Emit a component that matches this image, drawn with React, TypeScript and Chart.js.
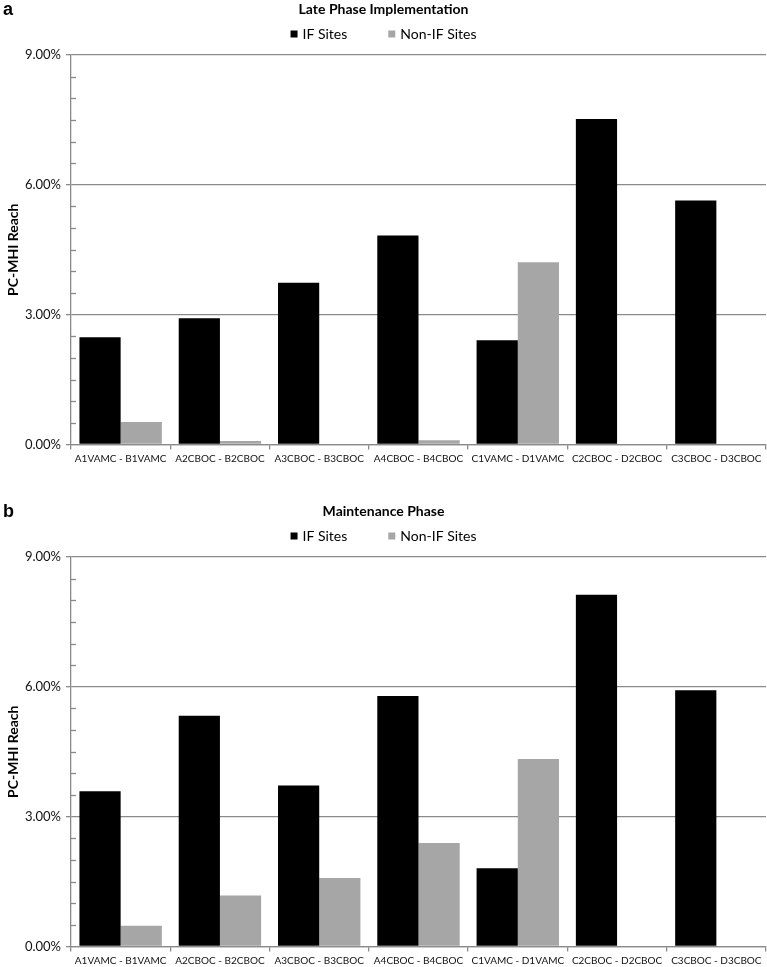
import React, { useEffect, useRef } from "react";
import { Chart, registerables } from "chart.js";

Chart.register(...registerables);

const categories = [
  "A1VAMC - B1VAMC",
  "A2CBOC - B2CBOC",
  "A3CBOC - B3CBOC",
  "A4CBOC - B4CBOC",
  "C1VAMC - D1VAMC",
  "C2CBOC - D2CBOC",
  "C3CBOC - D3CBOC",
];
const seriesNames = ["IF Sites", "Non-IF Sites"];
const seriesColors = ["#000000", "#a6a6a6"];

const lateIF = [2.48, 2.92, 3.74, 4.83, 2.41, 7.52, 5.64];
const lateNonIF = [0.52, 0.08, 0, 0.1, 4.21, 0, 0];
const maintIF = [3.59, 5.33, 3.72, 5.79, 1.81, 8.13, 5.92];
const maintNonIF = [0.48, 1.18, 1.58, 2.39, 4.33, 0, 0];

const yMin = 0;
const yMax = 9;
const yMajorStep = 3;
const yMinorStep = 0.5;
const yAxisTitle = "PC-MHI Reach";

const panelTitles = ["Late Phase Implementation", "Maintenance Phase"];
const panelLetters = ["a", "b"];

const FONT = "Lato";
const GRID = "#8a8a8a";

const headerPlugin = {
  id: "header",
  afterDraw(chart: any, _args: any, opts: any) {
    const ctx = chart.ctx;
    ctx.save();
    // panel letter
    ctx.fillStyle = "#000";
    ctx.font = "bold 18px 'Liberation Sans', Arial, sans-serif";
    ctx.textAlign = "left";
    ctx.textBaseline = "alphabetic";
    ctx.fillText(opts.letter, 3, 15);
    // title
    ctx.font = `bold 14px ${FONT}`;
    ctx.textAlign = "center";
    ctx.textBaseline = "middle";
    ctx.fillText(opts.title, 383.5, 9);
    // legend
    ctx.font = `14px ${FONT}`;
    const box = 7;
    const gapText = 5;
    const gapItem = 41;
    const ds = chart.data.datasets;
    const widths = ds.map((d: any) => ctx.measureText(d.label).width);
    let total = 0;
    widths.forEach((w: number, i: number) => {
      total += box + gapText + w + (i < widths.length - 1 ? gapItem : 0);
    });
    let x = 383.5 - total / 2;
    const cy = 34;
    ds.forEach((d: any, i: number) => {
      ctx.fillStyle = d.backgroundColor;
      ctx.fillRect(x, cy - box / 2, box, box);
      x += box + gapText;
      ctx.fillStyle = "#000";
      ctx.textAlign = "left";
      ctx.fillText(d.label, x, cy);
      x += widths[i] + gapItem;
    });
    // minor ticks on y axis
    const ys = chart.scales.y;
    ctx.strokeStyle = GRID;
    ctx.lineWidth = 1.3;
    for (let v = yMin + yMinorStep; v < yMax; v += yMinorStep) {
      if (Math.abs(v / yMajorStep - Math.round(v / yMajorStep)) < 1e-6) continue;
      const py = Math.round(ys.getPixelForValue(v)) + 0.5;
      ctx.beginPath();
      ctx.moveTo(ys.right, py);
      ctx.lineTo(ys.right + 5, py);
      ctx.stroke();
    }
    ctx.restore();
  },
};

function Panel({
  top,
  height,
  title,
  letter,
  ifValues,
  nonIfValues,
}: {
  top: number;
  height: number;
  title: string;
  letter: string;
  ifValues: number[];
  nonIfValues: number[];
}) {
  const ref = useRef<HTMLCanvasElement>(null);
  useEffect(() => {
    if (!ref.current) return;
    const plotBottom = 444.5;
    const chart = new Chart(ref.current, {
      type: "bar",
      data: {
        labels: categories,
        datasets: [
          {
            label: seriesNames[0],
            data: ifValues,
            backgroundColor: seriesColors[0],
            borderWidth: 0,
            categoryPercentage: 0.83,
            barPercentage: 1.0,
          },
          {
            label: seriesNames[1],
            data: nonIfValues,
            backgroundColor: seriesColors[1],
            borderWidth: 0,
            categoryPercentage: 0.83,
            barPercentage: 1.0,
          },
        ],
      },
      options: {
        animation: false,
        responsive: false,
        maintainAspectRatio: false,
        layout: { padding: { top: 55, right: 1, left: 0, bottom: 0 } },
        plugins: {
          legend: { display: false },
          title: { display: false },
          tooltip: { enabled: false },
          header: { title, letter },
        } as any,
        scales: {
          x: {
            grid: {
              display: true,
              drawOnChartArea: false,
              drawTicks: true,
              tickLength: 5,
              color: GRID,
              lineWidth: 1.3,
              offset: true,
            },
            border: { display: true, color: GRID, width: 1.3 },
            ticks: {
              color: "#111",
              font: { family: FONT, size: 10 },
              padding: 3,
              maxRotation: 0,
              autoSkip: false,
            },
            afterFit: (s: any) => {
              s.height = height - plotBottom;
            },
          },
          y: {
            min: yMin,
            max: yMax,
            grid: {
              color: GRID,
              lineWidth: 1.3,
              tickLength: 5,
              drawTicks: true,
            },
            border: { display: true, color: GRID, width: 1.3 },
            ticks: {
              stepSize: yMajorStep,
              color: "#111",
              font: { family: FONT, size: 13 },
              padding: 5,
              callback: (v: any) => Number(v).toFixed(2) + "%",
            },
            title: {
              display: true,
              text: yAxisTitle,
              color: "#000",
              font: { family: FONT, size: 14, weight: "bold" },
              padding: { top: 5, bottom: 0 },
            },
            afterFit: (s: any) => {
              s.width = 71;
            },
          },
        },
      },
      plugins: [headerPlugin],
    } as any);
    return () => chart.destroy();
  }, []);
  return (
    <canvas
      ref={ref}
      width={767}
      height={height}
      style={{ position: "absolute", left: 0, top, width: 767, height }}
    />
  );
}

export default function App() {
  return (
    <div
      style={{
        position: "absolute",
        left: 0,
        top: 0,
        width: 767,
        height: 967,
        background: "#fff",
      }}
    >
      <Panel
        top={0}
        height={502}
        title={panelTitles[0]}
        letter={panelLetters[0]}
        ifValues={lateIF}
        nonIfValues={lateNonIF}
      />
      <Panel
        top={502}
        height={465}
        title={panelTitles[1]}
        letter={panelLetters[1]}
        ifValues={maintIF}
        nonIfValues={maintNonIF}
      />
    </div>
  );
}
